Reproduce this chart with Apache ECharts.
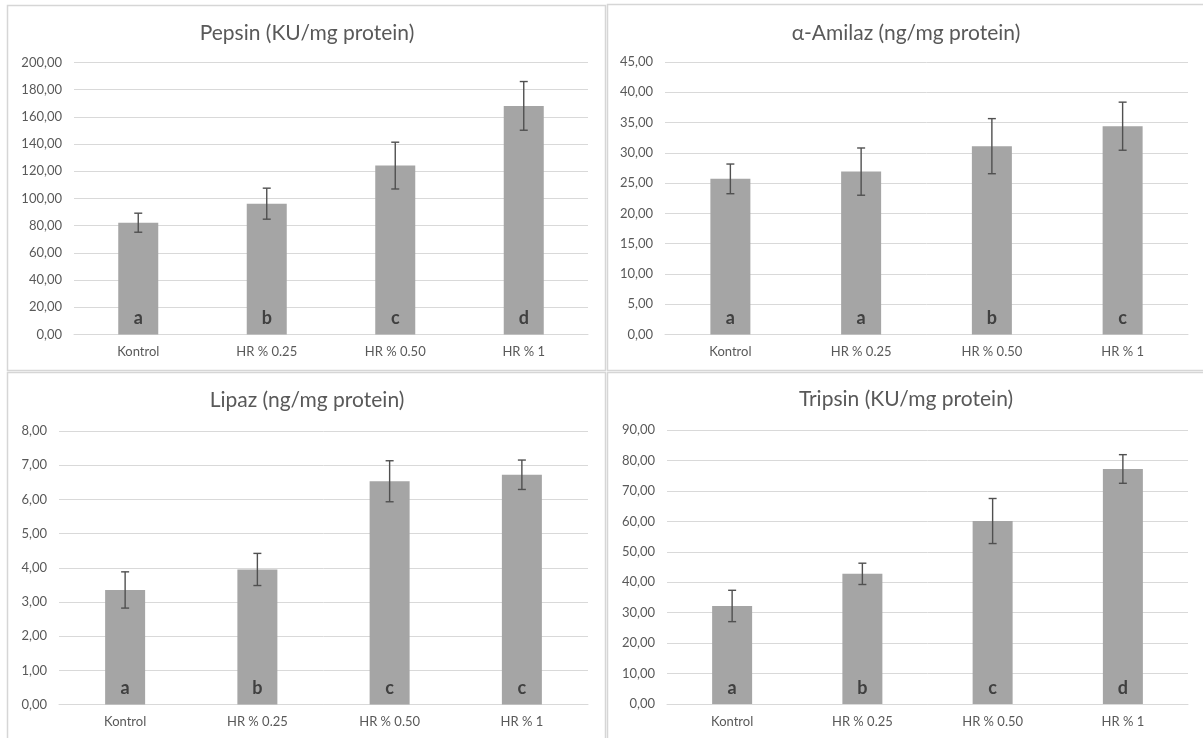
<!DOCTYPE html>
<html>
<head>
<meta charset="utf-8">
<script src="https://cdn.jsdelivr.net/npm/echarts@6/dist/echarts.min.js"></script>
<style>
  html, body { margin: 0; padding: 0; background: #ffffff; }
  #chart { width: 1203px; height: 738px; }
</style>
</head>
<body>
<div id="chart"></div>
<script>
// Treatment groups shared by all four enzyme panels
const categories = ['Kontrol', 'HR % 0.25', 'HR % 0.50', 'HR % 1'];

// Pepsin (KU/mg protein)
const pepsinMean = [82.2, 96.2, 124.2, 168.1];
const pepsinSd = [7.0, 11.4, 17.2, 17.9];
const pepsinGroups = ['a', 'b', 'c', 'd'];

// α-Amilaz (ng/mg protein)
const amilazMean = [25.7, 26.9, 31.1, 34.4];
const amilazSd = [2.45, 3.9, 4.55, 3.97];
const amilazGroups = ['a', 'a', 'b', 'c'];

// Lipaz (ng/mg protein)
const lipazMean = [3.35, 3.95, 6.53, 6.72];
const lipazSd = [0.53, 0.47, 0.60, 0.43];
const lipazGroups = ['a', 'b', 'c', 'c'];

// Tripsin (KU/mg protein)
const tripsinMean = [32.2, 42.75, 60.1, 77.2];
const tripsinSd = [5.15, 3.5, 7.4, 4.7];
const tripsinGroups = ['a', 'b', 'c', 'd'];

// Value-axis ranges: [max, interval]
const pepsinAxis = [200, 20];
const amilazAxis = [45, 5];
const lipazAxis = [8, 1];
const tripsinAxis = [90, 10];

const FONT = 'Lato, "Open Sans", sans-serif';
const TEXT_GRAY = '#595959';
const GRID_GRAY = '#d9d9d9';

const panels = [
  { title: 'Pepsin (KU/mg protein)', mean: pepsinMean, sd: pepsinSd, groups: pepsinGroups, axis: pepsinAxis,
    grid: { left: 74, top: 62.5, width: 514, height: 272 }, titleX: 307, titleY: 33 },
  { title: 'α-Amilaz (ng/mg protein)', mean: amilazMean, sd: amilazSd, groups: amilazGroups, axis: amilazAxis,
    grid: { left: 665, top: 62, width: 523, height: 272.5 }, titleX: 906, titleY: 33 },
  { title: 'Lipaz (ng/mg protein)', mean: lipazMean, sd: lipazSd, groups: lipazGroups, axis: lipazAxis,
    grid: { left: 59, top: 431, width: 529, height: 273.5 }, titleX: 307, titleY: 400 },
  { title: 'Tripsin (KU/mg protein)', mean: tripsinMean, sd: tripsinSd, groups: tripsinGroups, axis: tripsinAxis,
    grid: { left: 667, top: 430, width: 521, height: 274 }, titleX: 906, titleY: 399 }
];

const fmt = v => v.toFixed(2).replace('.', ',');

function errorBarItem(params, api) {
  const x = api.value(0);
  const top = api.coord([x, api.value(2)]);
  const bot = api.coord([x, api.value(1)]);
  const half = 4;
  const style = { stroke: '#505050', lineWidth: 1.4 };
  return {
    type: 'group',
    children: [
      { type: 'line', shape: { x1: top[0], y1: top[1], x2: bot[0], y2: bot[1] }, style },
      { type: 'line', shape: { x1: top[0] - half, y1: top[1], x2: top[0] + half, y2: top[1] }, style },
      { type: 'line', shape: { x1: bot[0] - half, y1: bot[1], x2: bot[0] + half, y2: bot[1] }, style }
    ]
  };
}

const grid = [], xAxis = [], yAxis = [], series = [], graphic = [];

panels.forEach((p, i) => {
  grid.push(p.grid);
  xAxis.push({
    type: 'category', gridIndex: i, data: categories,
    axisLine: { lineStyle: { color: GRID_GRAY, width: 1 } },
    axisTick: { show: false },
    axisLabel: { color: TEXT_GRAY, fontFamily: FONT, fontSize: 13, margin: 11 }
  });
  yAxis.push({
    type: 'value', gridIndex: i, min: 0, max: p.axis[0], interval: p.axis[1],
    axisLine: { show: false }, axisTick: { show: false },
    splitLine: { lineStyle: { color: GRID_GRAY, width: 1 } },
    axisLabel: { color: TEXT_GRAY, fontFamily: FONT, fontSize: 13, margin: 12, formatter: fmt }
  });
  series.push({
    type: 'bar', xAxisIndex: i, yAxisIndex: i, data: p.mean, barWidth: 40,
    itemStyle: { color: '#a5a5a5' },
    silent: true,
    label: {
      show: true, position: 'insideBottom', distance: 7,
      formatter: prm => p.groups[prm.dataIndex],
      color: '#404040', fontFamily: FONT, fontWeight: 'bold', fontSize: 18
    }
  });
  series.push({
    type: 'custom', xAxisIndex: i, yAxisIndex: i, renderItem: errorBarItem, silent: true, z: 5,
    data: p.mean.map((m, k) => [k, m - p.sd[k], m + p.sd[k]])
  });
  graphic.push({
    type: 'text', x: p.titleX, y: p.titleY, silent: true,
    style: { text: p.title, fill: TEXT_GRAY, font: '21px ' + FONT, align: 'center', verticalAlign: 'middle' }
  });
});

// Panel frames
[
  [7.5, 5.5, 598, 365],
  [607.5, 4.5, 620, 366],
  [7.5, 372.5, 598, 380],
  [607.5, 372.5, 620, 380]
].forEach(r => graphic.push({
  type: 'rect', silent: true, z: -1,
  shape: { x: r[0], y: r[1], width: r[2], height: r[3] },
  style: { fill: 'none', stroke: '#d6d6d6', lineWidth: 1.5 }
}));

const chart = echarts.init(document.getElementById('chart'), null, { renderer: 'canvas' });
chart.setOption({
  animation: false,
  backgroundColor: '#ffffff',
  grid, xAxis, yAxis, series, graphic
});
</script>
</body>
</html>
